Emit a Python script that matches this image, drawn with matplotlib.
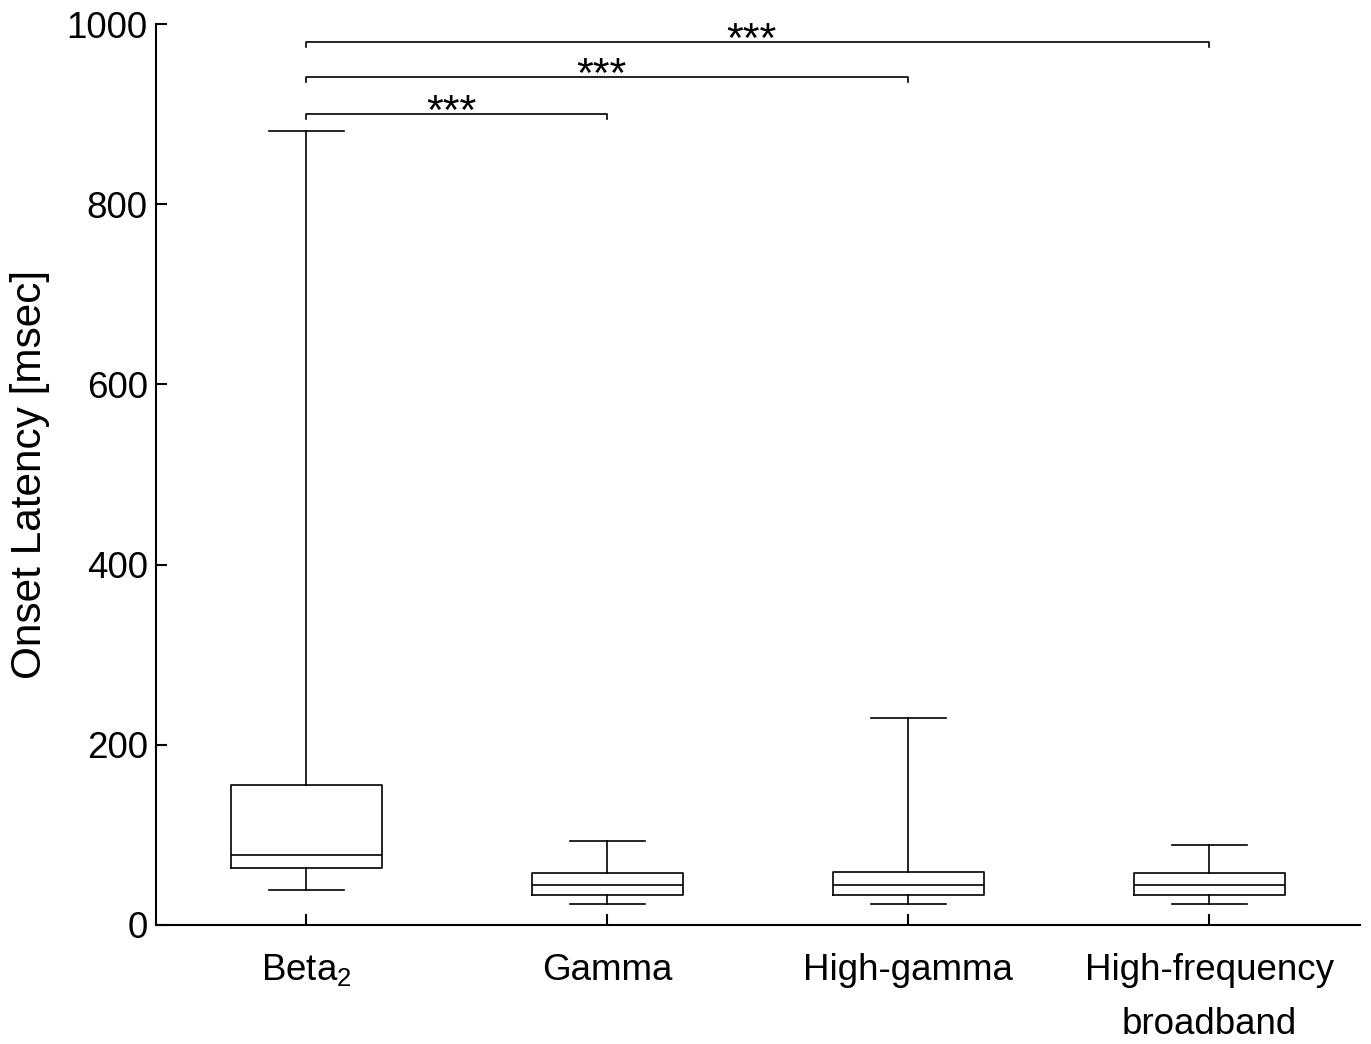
import numpy as np
import matplotlib.pyplot as plt

plt.rcParams['font.family'] = ['Liberation Sans', 'DejaVu Sans']
plt.rcParams['mathtext.fontset'] = 'custom'
plt.rcParams['mathtext.rm'] = 'Liberation Sans'

labels = ['Beta$_\\mathregular{2}$', 'Gamma', 'High-gamma', 'High-frequency\nbroadband']
whislo = [39, 23, 23, 23]
q1 = [63, 33, 33, 33]
med = [78, 44, 44, 44]
q3 = [155, 58, 59, 58]
whishi = [881, 93, 230, 89]

# significance brackets: (from, to, height)
pairs = [(1, 2), (1, 3), (1, 4)]
bracket_y = [900, 941, 980]

stats = []
for i in range(4):
    stats.append(dict(whislo=whislo[i], q1=q1[i], med=med[i], q3=q3[i],
                      whishi=whishi[i], fliers=[]))

fig = plt.figure(figsize=(13.71, 10.44), dpi=100)
ax = fig.add_axes([0.1138, 0.114, 0.878, 0.863])

lp = dict(color='black', linewidth=1.2)
ax.bxp(stats, positions=[1, 2, 3, 4], widths=0.5, showfliers=False,
       boxprops=lp, whiskerprops=lp, capprops=lp, medianprops=lp,
       capwidths=0.25)

for (a, b), y in zip(pairs, bracket_y):
    ax.plot([a, a, b, b], [y - 5, y, y, y - 5], color='black', linewidth=1.2)
    ax.text((a + b) / 2 - 0.02, y - 11, '***', ha='center', va='baseline', fontsize=31)

ax.set_xlim(0.5, 4.5)
ax.set_ylim(0, 1000)
ax.set_yticks([0, 200, 400, 600, 800, 1000])
ax.set_xticks([1, 2, 3, 4])
ax.set_xticklabels(labels, fontsize=26.5, linespacing=1.7, va='top')
ax.tick_params(axis='y', labelsize=26.5, direction='in', length=8, width=1.5, pad=6)
ax.tick_params(axis='x', direction='in', length=8, width=1.5, pad=20)
ax.set_ylabel('Onset Latency [msec]', fontsize=30.5, labelpad=12)
ax.spines['top'].set_visible(False)
ax.spines['right'].set_visible(False)
ax.spines['left'].set_linewidth(1.5)
ax.spines['bottom'].set_linewidth(1.5)

fig.savefig('out.png', dpi=100)
